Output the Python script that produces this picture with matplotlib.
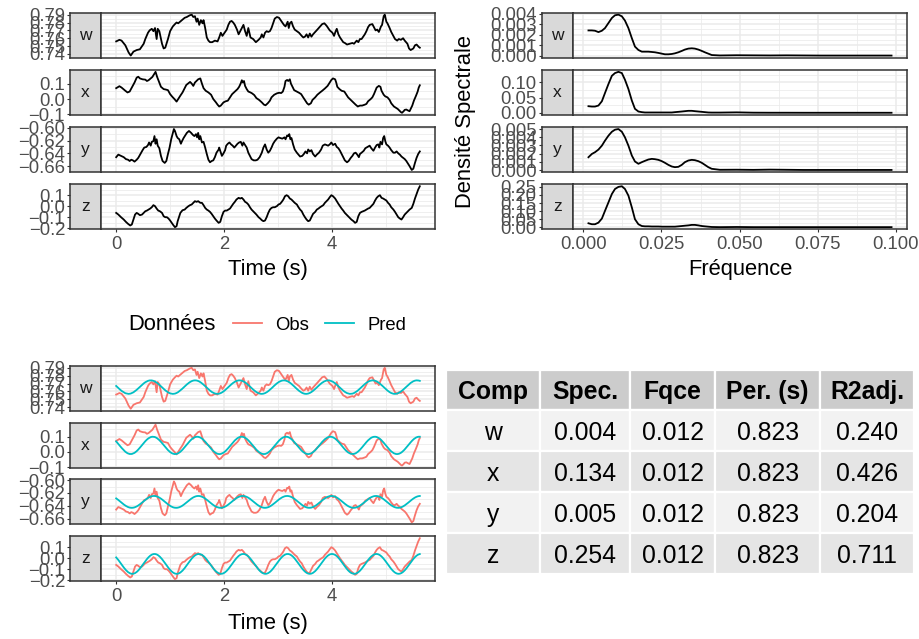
import numpy as np
import matplotlib
matplotlib.use("Agg")
import matplotlib.pyplot as plt
from matplotlib.lines import Line2D
from matplotlib.patches import Rectangle
from matplotlib.ticker import FixedLocator, FuncFormatter

plt.rcParams['font.family'] = ['Liberation Sans', 'DejaVu Sans']

components = ['w', 'x', 'y', 'z']

# ---------------- observed time series (time s, value) ----------------
obs_w = [(0.00,0.756),(0.06,0.758),(0.10,0.757),(0.17,0.751),(0.23,0.742),(0.27,0.738),(0.32,0.743),(0.38,0.745),(0.44,0.746),(0.51,0.753),(0.54,0.759),(0.59,0.767),(0.62,0.770),(0.66,0.772),(0.69,0.769),(0.72,0.773),(0.75,0.759),(0.77,0.772),(0.80,0.769),(0.85,0.753),(0.88,0.747),(0.91,0.748),(0.96,0.759),(1.00,0.769),(1.05,0.775),(1.09,0.778),(1.12,0.780),(1.15,0.779),(1.22,0.783),(1.27,0.786),(1.31,0.787),(1.36,0.789),(1.40,0.790),(1.43,0.787),(1.46,0.788),(1.49,0.781),(1.51,0.785),(1.54,0.777),(1.57,0.783),(1.60,0.779),(1.62,0.783),(1.65,0.773),(1.68,0.761),(1.71,0.757),(1.74,0.755),(1.78,0.755),(1.83,0.757),(1.88,0.756),(1.91,0.761),(1.94,0.767),(1.97,0.763),(2.01,0.767),(2.05,0.771),(2.08,0.777),(2.11,0.781),(2.14,0.782),(2.17,0.780),(2.20,0.777),(2.24,0.771),(2.27,0.765),(2.30,0.769),(2.33,0.773),(2.36,0.777),(2.39,0.769),(2.42,0.763),(2.45,0.773),(2.47,0.767),(2.49,0.761),(2.54,0.759),(2.59,0.755),(2.64,0.758),(2.68,0.761),(2.70,0.765),(2.73,0.761),(2.76,0.767),(2.79,0.769),(2.82,0.768),(2.85,0.769),(2.88,0.773),(2.91,0.779),(2.94,0.785),(2.98,0.787),(3.02,0.786),(3.07,0.781),(3.11,0.777),(3.14,0.775),(3.18,0.781),(3.20,0.773),(3.22,0.779),(3.25,0.781),(3.28,0.775),(3.31,0.771),(3.35,0.769),(3.39,0.767),(3.44,0.763),(3.47,0.761),(3.50,0.762),(3.53,0.765),(3.56,0.761),(3.59,0.766),(3.62,0.762),(3.65,0.765),(3.69,0.768),(3.73,0.771),(3.78,0.775),(3.82,0.778),(3.86,0.779),(3.90,0.776),(3.93,0.773),(3.96,0.770),(4.01,0.767),(4.04,0.763),(4.07,0.769),(4.09,0.772),(4.12,0.765),(4.15,0.761),(4.18,0.758),(4.21,0.755),(4.24,0.754),(4.28,0.752),(4.33,0.753),(4.38,0.754),(4.41,0.753),(4.46,0.757),(4.49,0.755),(4.52,0.759),(4.55,0.759),(4.58,0.762),(4.61,0.765),(4.64,0.769),(4.67,0.774),(4.70,0.777),(4.75,0.778),(4.78,0.774),(4.81,0.770),(4.84,0.771),(4.87,0.768),(4.91,0.775),(4.93,0.777),(4.96,0.788),(4.98,0.790),(5.01,0.781),(5.03,0.779),(5.07,0.773),(5.10,0.768),(5.14,0.763),(5.17,0.759),(5.21,0.757),(5.24,0.759),(5.28,0.758),(5.32,0.760),(5.35,0.757),(5.40,0.753),(5.43,0.747),(5.46,0.745),(5.51,0.747),(5.54,0.751),(5.57,0.752),(5.61,0.749),(5.63,0.748)]

obs_x = [(0.00,0.071),(0.06,0.084),(0.10,0.075),(0.17,0.054),(0.21,0.043),(0.25,0.049),(0.29,0.075),(0.34,0.108),(0.38,0.140),(0.41,0.146),(0.44,0.135),(0.49,0.129),(0.54,0.127),(0.57,0.118),(0.60,0.123),(0.64,0.135),(0.67,0.144),(0.71,0.166),(0.73,0.178),(0.76,0.144),(0.80,0.108),(0.83,0.080),(0.88,0.065),(0.92,0.062),(0.96,0.058),(1.00,0.032),(1.04,0.015),(1.08,0.000),(1.12,-0.017),(1.15,0.000),(1.19,0.022),(1.23,0.043),(1.27,0.071),(1.30,0.092),(1.34,0.103),(1.37,0.112),(1.40,0.101),(1.43,0.086),(1.46,0.108),(1.49,0.118),(1.52,0.129),(1.56,0.135),(1.59,0.101),(1.62,0.071),(1.66,0.054),(1.71,0.043),(1.76,0.028),(1.80,0.000),(1.85,-0.022),(1.88,-0.037),(1.91,-0.049),(1.94,-0.043),(1.99,-0.022),(2.03,-0.015),(2.07,-0.011),(2.11,0.011),(2.15,0.032),(2.20,0.049),(2.25,0.065),(2.28,0.080),(2.31,0.103),(2.33,0.123),(2.35,0.108),(2.37,0.118),(2.39,0.086),(2.42,0.065),(2.45,0.049),(2.49,0.043),(2.52,0.037),(2.56,0.026),(2.60,0.006),(2.65,-0.006),(2.70,-0.022),(2.74,-0.037),(2.77,-0.041),(2.81,-0.028),(2.85,-0.011),(2.88,0.011),(2.93,0.028),(2.98,0.037),(3.02,0.041),(3.06,0.039),(3.09,0.049),(3.12,0.080),(3.14,0.118),(3.17,0.125),(3.19,0.118),(3.22,0.129),(3.24,0.101),(3.27,0.080),(3.30,0.058),(3.35,0.049),(3.39,0.041),(3.43,0.032),(3.46,0.015),(3.50,-0.006),(3.54,-0.028),(3.57,-0.037),(3.61,-0.028),(3.64,-0.006),(3.69,0.011),(3.73,0.028),(3.78,0.043),(3.82,0.054),(3.87,0.069),(3.92,0.086),(3.96,0.108),(3.99,0.125),(4.02,0.135),(4.06,0.129),(4.08,0.108),(4.10,0.080),(4.14,0.065),(4.18,0.054),(4.23,0.049),(4.27,0.028),(4.30,0.011),(4.35,-0.006),(4.40,-0.022),(4.44,-0.037),(4.48,-0.049),(4.52,-0.043),(4.56,-0.043),(4.61,-0.037),(4.64,-0.032),(4.67,-0.015),(4.72,0.000),(4.75,0.011),(4.78,0.032),(4.81,0.058),(4.83,0.075),(4.87,0.086),(4.90,0.080),(4.92,0.054),(4.96,0.028),(4.99,0.017),(5.03,0.011),(5.07,-0.006),(5.10,-0.028),(5.15,-0.049),(5.19,-0.058),(5.22,-0.065),(5.25,-0.075),(5.28,-0.086),(5.30,-0.090),(5.33,-0.080),(5.35,-0.071),(5.38,-0.069),(5.41,-0.075),(5.44,-0.080),(5.46,-0.065),(5.49,-0.043),(5.52,-0.011),(5.56,0.022),(5.59,0.049),(5.61,0.075),(5.63,0.090)]

obs_y = [(0.00,-0.646),(0.04,-0.642),(0.09,-0.644),(0.14,-0.646),(0.18,-0.649),(0.22,-0.650),(0.25,-0.652),(0.28,-0.650),(0.31,-0.651),(0.34,-0.653),(0.38,-0.650),(0.41,-0.647),(0.45,-0.641),(0.49,-0.635),(0.52,-0.631),(0.56,-0.630),(0.59,-0.627),(0.61,-0.623),(0.64,-0.628),(0.66,-0.622),(0.69,-0.621),(0.71,-0.613),(0.73,-0.625),(0.75,-0.618),(0.77,-0.628),(0.80,-0.632),(0.83,-0.644),(0.86,-0.652),(0.90,-0.655),(0.93,-0.652),(0.96,-0.641),(0.99,-0.631),(1.02,-0.618),(1.05,-0.608),(1.07,-0.602),(1.09,-0.605),(1.12,-0.613),(1.14,-0.616),(1.17,-0.618),(1.20,-0.625),(1.22,-0.621),(1.25,-0.616),(1.28,-0.612),(1.31,-0.608),(1.35,-0.605),(1.39,-0.608),(1.42,-0.611),(1.45,-0.613),(1.48,-0.610),(1.50,-0.615),(1.52,-0.608),(1.54,-0.618),(1.56,-0.613),(1.59,-0.623),(1.62,-0.622),(1.65,-0.631),(1.68,-0.641),(1.71,-0.650),(1.74,-0.654),(1.77,-0.652),(1.80,-0.651),(1.83,-0.646),(1.86,-0.639),(1.90,-0.634),(1.91,-0.631),(1.94,-0.639),(1.96,-0.644),(1.99,-0.640),(2.02,-0.635),(2.04,-0.628),(2.07,-0.625),(2.10,-0.623),(2.13,-0.626),(2.16,-0.628),(2.19,-0.631),(2.22,-0.628),(2.25,-0.625),(2.28,-0.623),(2.31,-0.622),(2.34,-0.628),(2.36,-0.623),(2.39,-0.627),(2.42,-0.631),(2.45,-0.639),(2.48,-0.644),(2.51,-0.649),(2.55,-0.651),(2.59,-0.651),(2.62,-0.650),(2.66,-0.646),(2.70,-0.639),(2.73,-0.631),(2.76,-0.626),(2.79,-0.634),(2.82,-0.639),(2.85,-0.636),(2.88,-0.631),(2.91,-0.625),(2.94,-0.621),(2.98,-0.617),(3.01,-0.615),(3.04,-0.616),(3.08,-0.617),(3.12,-0.615),(3.14,-0.618),(3.17,-0.612),(3.19,-0.613),(3.21,-0.610),(3.23,-0.618),(3.25,-0.616),(3.28,-0.626),(3.31,-0.634),(3.35,-0.639),(3.38,-0.642),(3.41,-0.645),(3.45,-0.644),(3.48,-0.641),(3.51,-0.637),(3.54,-0.640),(3.56,-0.634),(3.59,-0.637),(3.62,-0.635),(3.65,-0.641),(3.69,-0.645),(3.72,-0.642),(3.76,-0.639),(3.80,-0.634),(3.83,-0.628),(3.87,-0.626),(3.90,-0.627),(3.93,-0.628),(3.96,-0.626),(3.99,-0.623),(4.02,-0.627),(4.06,-0.625),(4.09,-0.630),(4.12,-0.632),(4.15,-0.636),(4.18,-0.641),(4.21,-0.646),(4.24,-0.651),(4.28,-0.654),(4.31,-0.652),(4.35,-0.647),(4.38,-0.644),(4.41,-0.640),(4.44,-0.639),(4.47,-0.642),(4.50,-0.646),(4.52,-0.641),(4.55,-0.639),(4.59,-0.636),(4.62,-0.632),(4.66,-0.630),(4.70,-0.628),(4.73,-0.632),(4.77,-0.636),(4.80,-0.631),(4.83,-0.627),(4.86,-0.626),(4.88,-0.631),(4.90,-0.622),(4.93,-0.626),(4.95,-0.616),(4.97,-0.613),(4.99,-0.621),(5.01,-0.626),(5.04,-0.628),(5.07,-0.631),(5.10,-0.635),(5.14,-0.639),(5.17,-0.639),(5.20,-0.637),(5.23,-0.640),(5.26,-0.642),(5.29,-0.645),(5.32,-0.647),(5.35,-0.649),(5.38,-0.652),(5.41,-0.656),(5.44,-0.660),(5.48,-0.666),(5.51,-0.664),(5.54,-0.655),(5.57,-0.647),(5.60,-0.641),(5.63,-0.637)]

obs_z_time = [0.00,0.04,0.09,0.14,0.18,0.22,0.26,0.29,
              0.32,0.35,0.38,0.41,0.44,0.48,0.51,0.54,0.57,0.60,0.63,0.66,0.69,0.72,0.75,0.78,0.81,0.85,0.88,0.91,0.94,0.97,1.00,1.03,1.06,1.09,
              1.12,1.14,1.17,1.19,1.23,1.27,1.30,1.34,
              1.37,1.40,1.43,1.46,1.49,1.52,1.56,1.59,1.62,1.65,1.68,1.71,1.74,1.77,1.80,1.83,1.86,1.90,1.93,1.96,
              1.99,2.02,2.05,2.08,2.11,2.14,2.17,2.20,2.23,2.27,2.30,2.33,2.36,2.39,2.42,2.45,2.48,2.51,2.54,2.57,
              2.60,2.64,2.67,2.70,2.73,2.76,2.79,2.82,2.85,2.88,2.91,2.94,2.98,3.01,3.04,3.07,3.10,3.13,3.16,3.19,
              3.22,3.25,3.28,3.31,3.35,3.38,3.41,3.44,3.47,3.50,3.53,3.56,3.59,3.62,3.65,3.69,3.72,3.75,3.78,3.81,
              3.84,3.87,3.90,3.93,3.96,3.99,4.02,4.06,4.09,4.12,4.15,4.18,4.21,4.24,4.27,4.30,4.33,4.36,4.40,4.43,
              4.46,4.49,4.52,4.55,4.58,4.61,4.64,4.67,4.70,4.73,4.77,4.80,4.83,4.86,4.89,4.92,4.95,4.98,5.01,5.04,
              5.07,5.10,5.14,5.17,5.20,5.23,5.26,5.29,5.32,5.35,5.38,5.41,5.44,5.48,5.51,5.54,5.57,5.60,5.63]
obs_z_val = [-0.059,-0.074,-0.098,-0.119,-0.140,-0.158,-0.173,-0.164,
             -0.119,-0.074,-0.059,-0.068,-0.080,-0.074,-0.059,-0.044,-0.038,-0.029,-0.020,-0.008,0.011,0.002,-0.020,-0.038,-0.044,-0.059,-0.089,-0.098,-0.098,-0.110,-0.128,-0.149,-0.170,-0.188,
             -0.179,-0.134,-0.089,-0.059,-0.035,-0.029,-0.014,0.002,
             0.011,0.017,0.032,0.047,0.041,0.047,0.032,0.032,0.011,-0.014,-0.029,-0.038,-0.050,-0.068,-0.089,-0.110,-0.128,-0.149,-0.140,-0.089,
             -0.050,-0.038,-0.038,-0.029,-0.020,0.002,0.023,0.041,0.062,0.077,0.071,0.077,0.062,0.041,0.032,0.017,-0.008,-0.029,-0.044,-0.059,
             -0.074,-0.098,-0.110,-0.125,-0.134,-0.128,-0.098,-0.059,-0.029,-0.014,-0.008,-0.008,0.002,0.017,0.023,0.041,0.062,0.092,0.101,0.092,
             0.071,0.062,0.047,0.032,0.017,-0.008,-0.029,-0.044,-0.074,-0.098,-0.119,-0.134,-0.128,-0.098,-0.068,-0.050,-0.029,-0.020,-0.008,0.002,
             0.011,0.032,0.047,0.062,0.083,0.101,0.092,0.071,0.047,0.023,0.002,-0.020,-0.038,-0.059,-0.074,-0.089,-0.104,-0.119,-0.134,-0.149,
             -0.140,-0.089,-0.059,-0.050,-0.044,-0.038,-0.029,-0.020,-0.014,0.002,0.023,0.053,0.077,0.092,0.101,0.077,0.071,0.062,0.053,0.032,
             0.017,-0.008,-0.029,-0.050,-0.074,-0.098,-0.110,-0.119,-0.098,-0.074,-0.059,-0.044,-0.029,-0.014,0.023,0.071,0.113,0.152,0.182]

# ---------------- fitted sinusoid (Pred) parameters ----------------
period = 0.823
pred_mean = {'w': 0.7655, 'x': 0.042, 'y': -0.6340, 'z': -0.050}
pred_amp = {'w': 0.0086, 'x': 0.057, 'y': 0.0093, 'z': 0.090}
pred_peak_time = {'w': 0.64, 'x': 0.68, 'y': 0.70, 'z': 0.71}

# ---------------- spectral density ----------------
freq = [0.0016,0.0027,0.0037,0.0048,0.0059,0.0069,0.0080,0.0091,0.0101,0.0112,0.0123,0.0133,0.0144,0.0155,0.0165,0.0176,0.0187,0.0197,0.0208,0.0219,
        0.0229,0.0240,0.0251,0.0261,0.0272,0.0283,0.0293,0.0304,0.0315,0.0325,0.0336,0.0347,0.0357,0.0368,0.0379,0.0389,0.0400,0.0411,
        0.0437,0.0491,0.0544,0.0598,0.0651,0.0704,0.0758,0.0811,0.0864,0.0918,0.0971,0.0987]
spec_w = [0.00240,0.00240,0.00237,0.00224,0.00237,0.00262,0.00310,0.00358,0.00384,0.00390,0.00374,0.00333,0.00262,0.00166,0.00086,0.00054,0.00038,0.00038,0.00038,0.00035,
          0.00032,0.00026,0.00019,0.00013,0.00013,0.00016,0.00022,0.00032,0.00045,0.00058,0.00067,0.00070,0.00067,0.00058,0.00045,0.00032,0.00019,0.00006,
          0.00002,0.00004,0.00003,0.00002,0.00003,0.00002,0.00001,0.00001,0.00001,0.00001,0.00001,0.00001]
spec_x = [0.0216,0.0205,0.0205,0.0238,0.0378,0.0648,0.0940,0.1210,0.1300,0.1340,0.1300,0.1080,0.0778,0.0400,0.0130,0.0043,0.0022,0.0011,0.0011,0.0011,
          0.0011,0.0011,0.0011,0.0011,0.0011,0.0011,0.0022,0.0032,0.0043,0.0054,0.0065,0.0065,0.0054,0.0043,0.0032,0.0022,0.0011,0.0008,
          0.0008,0.0015,0.0005,0.0003,0.0003,0.0002,0.0002,0.0002,0.0002,0.0002,0.0002,0.0002]
spec_y = [0.00157,0.00197,0.00218,0.00250,0.00298,0.00359,0.00419,0.00467,0.00492,0.00500,0.00467,0.00399,0.00298,0.00177,0.00105,0.00077,0.00097,0.00113,0.00129,0.00137,
          0.00133,0.00125,0.00109,0.00089,0.00064,0.00044,0.00036,0.00040,0.00064,0.00097,0.00117,0.00125,0.00121,0.00109,0.00089,0.00064,0.00036,0.00016,
          0.00004,0.00005,0.00003,0.00006,0.00004,0.00002,0.00002,0.00002,0.00002,0.00002,0.00002,0.00002]
spec_z = [0.025,0.019,0.019,0.029,0.054,0.102,0.154,0.206,0.237,0.250,0.254,0.237,0.196,0.123,0.050,0.019,0.008,0.006,0.006,0.005,
          0.005,0.005,0.004,0.004,0.004,0.004,0.004,0.006,0.008,0.010,0.012,0.015,0.015,0.012,0.008,0.006,0.004,0.002,
          0.001,0.002,0.001,0.001,0.001,0.001,0.001,0.001,0.001,0.001,0.001,0.001]

# ---------------- table ----------------
tbl_header = ['Comp', 'Spec.', 'Fqce', 'Per. (s)', 'R2adj.']
tbl_comp = ['w', 'x', 'y', 'z']
tbl_spec = [0.004, 0.134, 0.005, 0.254]
tbl_fqce = [0.012, 0.012, 0.012, 0.012]
tbl_per = [0.823, 0.823, 0.823, 0.823]
tbl_r2 = [0.240, 0.426, 0.204, 0.711]

# ---------------- axis breaks ----------------
ts_ticks = {'w': [0.74, 0.75, 0.76, 0.77, 0.78, 0.79], 'x': [-0.1, 0.0, 0.1],
            'y': [-0.66, -0.64, -0.62, -0.60], 'z': [-0.2, -0.1, 0.0, 0.1]}
ts_dec = {'w': 2, 'x': 1, 'y': 2, 'z': 1}
sp_ticks = {'w': [0, 0.001, 0.002, 0.003, 0.004], 'x': [0, 0.05, 0.10],
            'y': [0, 0.001, 0.002, 0.003, 0.004, 0.005], 'z': [0, 0.05, 0.10, 0.15, 0.20, 0.25]}
sp_dec = {'w': 3, 'x': 2, 'y': 3, 'z': 2}
time_ticks = [0, 2, 4]
freq_ticks = [0.0, 0.025, 0.05, 0.075, 0.1]

obs = {'w': np.array(obs_w).T, 'x': np.array(obs_x).T, 'y': np.array(obs_y).T,
       'z': np.array([obs_z_time, obs_z_val])}
spec = {'w': np.array(spec_w), 'x': np.array(spec_x), 'y': np.array(spec_y), 'z': np.array(spec_z)}
freq = np.array(freq)


def pred_of(c, t):
    return pred_mean[c] + pred_amp[c] * np.cos(2 * np.pi * (t - pred_peak_time[c]) / period)


# ---------------- figure ----------------
W, H = 920, 639
fig = plt.figure(figsize=(W / 100, H / 100), dpi=100)
fig.patch.set_facecolor('white')

TICK_PT = 13.3
TITLE_PT = 15.8
STRIP_PT = 12.5
GRID = '#EBEBEB'
BORDER = '#333333'
TXT = '#4D4D4D'
C_OBS = '#F8766D'
C_PRED = '#00BFC4'


def rect(x0, y0, x1, y1):
    return [x0 / W, 1 - y1 / H, (x1 - x0) / W, (y1 - y0) / H]


def expand(lo, hi, f=0.05):
    r = hi - lo
    return lo - f * r, hi + f * r


def minors(majors, lim):
    majors = list(majors)
    step = majors[1] - majors[0]
    cand = [majors[0] - step / 2] + [(a + b) / 2 for a, b in zip(majors[:-1], majors[1:])] + [majors[-1] + step / 2]
    return [m for m in cand if lim[0] <= m <= lim[1]]


def fmt(dec):
    def f(v, pos):
        s = f"{v:.{dec}f}"
        if float(s) == 0:
            s = f"{0:.{dec}f}"
        return s.replace('-', '\u2212')
    return FuncFormatter(f)


def facet(xs0, xp0, xp1, y0, y1, label, xlim, ylim, xmaj, ymaj, ydec, xdec, show_x):
    sax = fig.add_axes(rect(xs0, y0, xp0, y1))
    pax = fig.add_axes(rect(xp0, y0, xp1, y1))
    # strip
    sax.set_facecolor('#D9D9D9')
    sax.set_xlim(0, 1)
    sax.set_ylim(*ylim)
    sax.set_xticks([])
    sax.yaxis.set_major_locator(FixedLocator(ymaj))
    sax.yaxis.set_major_formatter(fmt(ydec))
    sax.tick_params(axis='y', direction='out', length=2.4, width=0.8, color=BORDER,
                    labelsize=TICK_PT, labelcolor=TXT, pad=1.2)
    for s in sax.spines.values():
        s.set_color(BORDER)
        s.set_linewidth(1.1)
    sax.text(0.5, 0.5, label, transform=sax.transAxes, ha='center', va='center',
             fontsize=STRIP_PT, color='#1A1A1A')
    # panel
    pax.set_facecolor('white')
    pax.set_xlim(*xlim)
    pax.set_ylim(*ylim)
    pax.xaxis.set_major_locator(FixedLocator(xmaj))
    pax.xaxis.set_minor_locator(FixedLocator(minors(xmaj, xlim)))
    pax.yaxis.set_major_locator(FixedLocator(ymaj))
    pax.yaxis.set_minor_locator(FixedLocator(minors(ymaj, ylim)))
    pax.grid(True, which='major', color=GRID, lw=1.1)
    pax.grid(True, which='minor', color=GRID, lw=0.55)
    pax.set_axisbelow(True)
    pax.tick_params(axis='y', which='both', length=0, labelleft=False)
    pax.tick_params(axis='x', which='minor', length=0)
    if show_x:
        pax.xaxis.set_major_formatter(fmt(xdec))
        pax.tick_params(axis='x', which='major', direction='out', length=2.4, width=0.8,
                        color=BORDER, labelsize=TICK_PT, labelcolor=TXT, pad=2.6)
    else:
        pax.tick_params(axis='x', which='major', length=0, labelbottom=False)
    for s in pax.spines.values():
        s.set_color(BORDER)
        s.set_linewidth(1.1)
        s.set_zorder(5)
    return pax


top_rows = [(12.6, 57.6), (69.8, 114.8), (127.0, 172.0), (184.2, 229.2)]
bot_rows = [(365.8, 410.8), (422.6, 467.6), (479.4, 524.4), (536.2, 581.2)]

# time x-limits
t_all = np.concatenate([obs[c][0] for c in components])
tlim = expand(t_all.min(), t_all.max())
flim = expand(freq.min(), freq.max())

# ---- top-left: observed series ----
for i, c in enumerate(components):
    t, v = obs[c]
    ylim = expand(v.min(), v.max())
    ax = facet(70, 101, 435, top_rows[i][0], top_rows[i][1], c, tlim, ylim,
               time_ticks, ts_ticks[c], ts_dec[c], 0, i == 3)
    ax.plot(t, v, color='black', lw=1.3, solid_joinstyle='round')

fig.text(268 / W, 1 - 269 / H, 'Time (s)', ha='center', va='center', fontsize=TITLE_PT, color='black')

# ---- top-right: spectral density ----
for i, c in enumerate(components):
    s = spec[c]
    ylim = expand(s.min(), s.max())
    ax = facet(541.7, 573.3, 906.7, top_rows[i][0], top_rows[i][1], c, flim, ylim,
               freq_ticks, sp_ticks[c], sp_dec[c], 3, i == 3)
    ax.plot(freq, s, color='black', lw=1.3)

fig.text(740 / W, 1 - 270 / H, 'Fréquence', ha='center', va='center', fontsize=TITLE_PT, color='black')
fig.text(466 / W, 1 - 121 / H, 'Densité Spectrale', ha='center', va='center', rotation=90,
         fontsize=TITLE_PT, color='black')

# ---- bottom-left: observed vs predicted ----
for i, c in enumerate(components):
    t, v = obs[c]
    p = pred_of(c, t)
    ylim = expand(min(v.min(), p.min()), max(v.max(), p.max()))
    ax = facet(70, 101, 435, bot_rows[i][0], bot_rows[i][1], c, tlim, ylim,
               time_ticks, ts_ticks[c], ts_dec[c], 0, i == 3)
    ax.plot(t, v, color=C_OBS, lw=1.3)
    ax.plot(t, p, color=C_PRED, lw=1.3)

fig.text(268 / W, 1 - 623 / H, 'Time (s)', ha='center', va='center', fontsize=TITLE_PT, color='black')

# legend
fig.text(128 / W, 1 - 325 / H, 'Données', ha='left', va='center', fontsize=TITLE_PT, color='black')
handles = [Line2D([], [], color=C_OBS, lw=1.3), Line2D([], [], color=C_PRED, lw=1.3)]
fig.legend(handles, ['Obs', 'Pred'], ncol=2, frameon=False, loc='center left',
           bbox_to_anchor=(233 / W, 1 - 325 / H), fontsize=TICK_PT, handlelength=1.55,
           handletextpad=0.75, columnspacing=0.85, borderpad=0, borderaxespad=0)

# ---- table ----
col_edges = [446.5, 540, 630.3, 715, 820.3, 914]
row_edges = [369.5, 410, 451, 492, 533, 574]
tax = fig.add_axes(rect(col_edges[0], row_edges[0], col_edges[-1], row_edges[-1]))
tax.set_xlim(col_edges[0], col_edges[-1])
tax.set_ylim(row_edges[-1], row_edges[0])
tax.axis('off')
rows = [tbl_header] + [[tbl_comp[k], f"{tbl_spec[k]:.3f}", f"{tbl_fqce[k]:.3f}",
                        f"{tbl_per[k]:.3f}", f"{tbl_r2[k]:.3f}"] for k in range(len(tbl_comp))]
for r, row in enumerate(rows):
    bg = '#CCCCCC' if r == 0 else ('#F2F2F2' if r % 2 == 1 else '#E5E5E5')
    for ci, txt in enumerate(row):
        x0, x1 = col_edges[ci], col_edges[ci + 1]
        y0, y1 = row_edges[r], row_edges[r + 1]
        tax.add_patch(Rectangle((x0, y0), x1 - x0, y1 - y0, facecolor=bg, edgecolor='white', lw=1.6))
        tax.text((x0 + x1) / 2, (y0 + y1) / 2, txt, ha='center', va='center_baseline',
                 fontsize=17.8, fontweight='bold' if r == 0 else 'normal', color='black')

fig.savefig('out.png', dpi=100, facecolor='white')
